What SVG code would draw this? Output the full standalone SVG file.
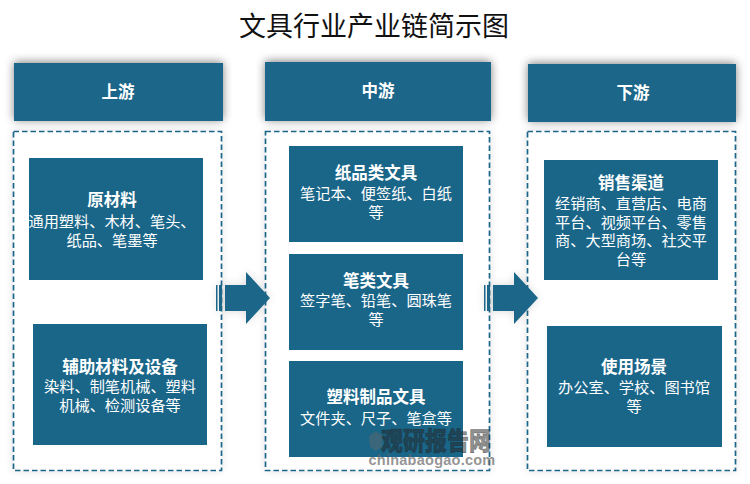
<svg xmlns="http://www.w3.org/2000/svg" width="750" height="484" viewBox="0 0 750 484">
<defs>
<filter id="sh" x="-15%" y="-35%" width="130%" height="170%"><feGaussianBlur in="SourceAlpha" stdDeviation="5"/><feOffset dy="-1"/><feComponentTransfer><feFuncA type="linear" slope="0.5"/></feComponentTransfer><feMerge><feMergeNode/><feMergeNode in="SourceGraphic"/></feMerge></filter>
<filter id="sh2" x="-10%" y="-10%" width="120%" height="120%"><feGaussianBlur in="SourceAlpha" stdDeviation="4"/><feComponentTransfer><feFuncA type="linear" slope="0.12"/></feComponentTransfer><feMerge><feMergeNode/><feMergeNode in="SourceGraphic"/></feMerge></filter>
<filter id="sh3" x="-30%" y="-30%" width="160%" height="160%"><feGaussianBlur in="SourceAlpha" stdDeviation="5"/><feComponentTransfer><feFuncA type="linear" slope="0.15"/></feComponentTransfer><feMerge><feMergeNode/><feMergeNode in="SourceGraphic"/></feMerge></filter>
</defs>
<style>
text{font-family:"Noto Sans CJK SC","Liberation Serif",serif;text-anchor:middle}
.box{fill:#1a6689}
.frame{fill:#fff;stroke:#1a6689;stroke-width:1.7;stroke-dasharray:5.500 3}
.h{fill:#fff;font-size:16.500px;font-weight:700}
.t{fill:#fff;font-size:16.500px;font-weight:700}
.b{fill:#fff;font-size:15.200px}
.arrow{fill:#1a6689}
</style>
<rect width="750" height="484" fill="#fff"/>
<text id="title" x="374" y="36" font-size="27" fill="#111">文具行业产业链简示图</text>

<g id="upstream-frame"><rect class="frame" x="13.500" y="131.500" width="208" height="339" filter="url(#sh2)"/></g>
<g id="midstream-frame"><rect class="frame" x="265.500" y="131.500" width="224" height="339" filter="url(#sh2)"/></g>
<g id="downstream-frame"><rect class="frame" x="527.500" y="131.500" width="208" height="339" filter="url(#sh2)"/></g>

<g id="upstream-head"><rect class="box" x="14" y="63" width="209" height="58" filter="url(#sh)"/><text class="h" x="118" y="98">上游</text></g>
<g id="midstream-head"><rect class="box" x="265" y="62" width="226" height="59" filter="url(#sh)"/><text class="h" x="378" y="97">中游</text></g>
<g id="downstream-head"><rect class="box" x="528" y="64" width="208" height="58" filter="url(#sh)"/><text class="h" x="633" y="99">下游</text></g>

<g id="raw-materials"><rect class="box" x="29" y="158" width="174" height="122"/>
<text class="t" x="112" y="206">原材料</text><text class="b" x="112" y="227">通用塑料、木材、笔头、</text><text class="b" x="112" y="246">纸品、笔墨等</text></g>
<g id="aux-materials"><rect class="box" x="33" y="324" width="174" height="121"/>
<text class="t" x="120" y="373">辅助材料及设备</text><text class="b" x="120" y="392">染料、制笔机械、塑料</text><text class="b" x="120" y="411">机械、检测设备等</text></g>

<g id="paper"><rect class="box" x="289" y="146" width="174" height="96"/>
<text class="t" x="376" y="179">纸品类文具</text><text class="b" x="376" y="199">笔记本、便签纸、白纸</text><text class="b" x="376" y="218">等</text></g>
<g id="pens"><rect class="box" x="289" y="254" width="174" height="96"/>
<text class="t" x="376" y="287">笔类文具</text><text class="b" x="376" y="306">签字笔、铅笔、圆珠笔</text><text class="b" x="376" y="325">等</text></g>
<g id="plastic"><rect class="box" x="289" y="361" width="174" height="96"/>
<text class="t" x="376" y="403">塑料制品文具</text><text class="b" x="376" y="424">文件夹、尺子、笔盒等</text></g>

<g id="channels"><rect class="box" x="544" y="160" width="174" height="120"/>
<text class="t" x="631" y="189">销售渠道</text><text class="b" x="631" y="209">经销商、直营店、电商</text><text class="b" x="631" y="228">平台、视频平台、零售</text><text class="b" x="631" y="246">商、大型商场、社交平</text><text class="b" x="631" y="265">台等</text></g>
<g id="scenes"><rect class="box" x="547" y="326" width="175" height="121"/>
<text class="t" x="634" y="373">使用场景</text><text class="b" x="634" y="393">办公室、学校、图书馆</text><text class="b" x="634" y="412">等</text></g>

<g id="connectors">
<g filter="url(#sh3)"><path class="arrow" d="M216 285h1.500v26H216zM219 285h3v26h-3zM225 285h21v-13l24 26-24 26v-13h-21z"/></g>
<g filter="url(#sh3)"><path class="arrow" d="M484 285h1.500v26H484zM487 285h3v26h-3zM493 285h21v-13l24 26-24 26v-13h-21z"/></g>
</g>

<g id="watermark">
<path d="M369 436l7-5 7 5-1 11-6 4-6-4z" fill="#666" fill-opacity="0.45"/>
<text transform="translate(436 450) scale(1 1.15)" font-size="22" font-weight="900" fill="#222" fill-opacity="0.5" stroke="#222" stroke-opacity="0.5" stroke-width="0.5" style="font-family:'Noto Sans CJK SC',sans-serif">观研报告网</text>
<text x="432" y="465" font-size="14.500" fill="#666" fill-opacity="0.7" style="font-family:'Liberation Sans',sans-serif;letter-spacing:0.250px;font-weight:700">chinabaogao.com</text>
</g>
</svg>
